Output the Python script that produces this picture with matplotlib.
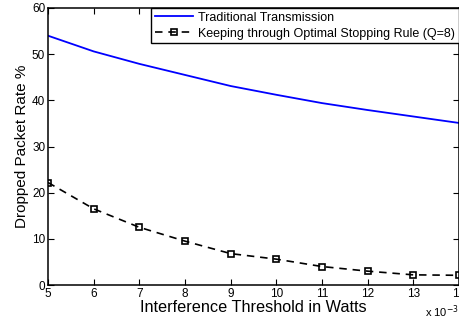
import matplotlib
matplotlib.use("Agg")
import matplotlib.pyplot as plt

plt.rcParams['font.family'] = ['Liberation Sans', 'DejaVu Sans']

threshold = [5, 6, 7, 8, 9, 10, 11, 12, 13, 14]
traditional = [54.0, 50.6, 47.9, 45.5, 43.1, 41.2, 39.4, 37.9, 36.5, 35.1]
optimal = [22.2, 16.5, 12.5, 9.5, 6.8, 5.6, 4.0, 3.0, 2.2, 2.1]
xticks = [5, 6, 7, 8, 9, 10, 11, 12, 13, 14]
yticks = [0, 10, 20, 30, 40, 50, 60]

fig = plt.figure(figsize=(4.6, 3.22), dpi=100)
ax = fig.add_axes([48/460, 37/322, 411/460, 277/322])

ax.plot(threshold, traditional, color='#0000ff', linewidth=1.3,
        label='Traditional Transmission')
ax.plot(threshold, optimal, color='black', linewidth=1.2, linestyle=(0, (4.5, 3.5)),
        marker='s', markersize=4.5, markerfacecolor='none', markeredgecolor='black',
        markeredgewidth=1.2, label='Keeping through Optimal Stopping Rule (Q=8)')

ax.set_xlim(5, 14)
ax.set_ylim(0, 60)
ax.set_xticks(xticks)
ax.set_xticklabels([str(v) for v in xticks])
ax.set_yticks(yticks)
ax.tick_params(direction='in', top=True, right=True, length=4, width=0.8,
               labelsize=8.5, pad=2)
for s in ax.spines.values():
    s.set_linewidth(1.1)

ax.set_xlabel('Interference Threshold in Watts', fontsize=11.7, labelpad=0)
ax.set_ylabel('Dropped Packet Rate %', fontsize=11, labelpad=2)

fig.text(425/460, 1 - 317/322, r'x 10$^{-3}$', fontsize=8, va='baseline', ha='left')

leg = ax.legend(loc='upper right', borderaxespad=0, fontsize=9, fancybox=False,
                edgecolor='black', framealpha=1, handlelength=3.1, handletextpad=0.4,
                borderpad=0.3, labelspacing=0.3)
leg.get_frame().set_linewidth(1.0)

fig.savefig('out.png', dpi=100)
